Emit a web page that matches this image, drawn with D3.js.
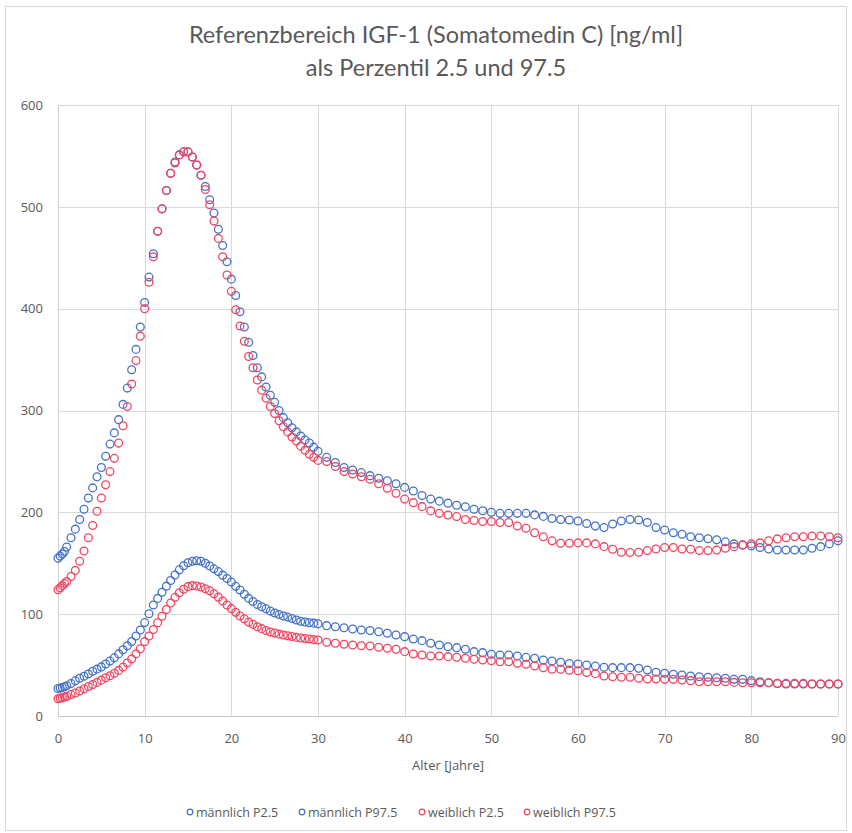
<!DOCTYPE html>
<html>
<head>
<meta charset="utf-8">
<script src="https://cdn.jsdelivr.net/npm/d3@7/dist/d3.min.js"></script>
<style>
  html, body { margin: 0; padding: 0; background: #fff; }
  svg text { font-family: "Open Sans", "Noto Sans", sans-serif; fill: #595959; }
</style>
</head>
<body>
<svg id="chart" width="852" height="833"></svg>
<script>
const ages = [0,0.25,0.5,0.75,1,1.5,2,2.5,3,3.5,4,4.5,5,5.5,6,6.5,7,7.5,8,8.5,9,9.5,10,10.5,11,11.5,12,12.5,13,13.5,14,14.5,15,15.5,16,16.5,17,17.5,18,18.5,19,19.5,20,20.5,21,21.5,22,22.5,23,23.5,24,24.5,25,25.5,26,26.5,27,27.5,28,28.5,29,29.5,30,
  31,32,33,34,35,36,37,38,39,40,41,42,43,44,45,46,47,48,49,50,51,52,53,54,55,56,57,58,59,60,61,62,63,64,65,66,67,68,69,70,71,72,73,74,75,76,77,78,79,80,81,82,83,84,85,86,87,88,89,90];

const maleP2_5 = [27,27.4,28,28.7,29.7,
  31.9,34.5,37,39.1,41.3,44,46,48.2,51.1,53.9,57.1,61,65,68.9,73.2,78.5,84.5,91.7,100.4,109,115.5,121.5,127.5,133,138.5,143.5,147.5,150.5,152,152.5,152,150,147.3,144.5,141.8,138.3,135,131.5,127.3,123.8,119.5,115.5,112.5,109.5,107.3,105.2,103,101.1,99.7,98.2,97.1,95.7,94.2,93,92.3,91.6,91.2,90.5,
  88.7,87.7,86.7,85.5,84.5,84,82.8,81.2,79.6,77.9,75.6,74,71.4,69.7,68,67.1,65.5,63.2,62.2,60.6,59.9,59.9,58.9,57.6,56.7,55,54,52.7,51.5,51,50,49,47.8,47.5,47.5,47.5,46.8,45.2,42.9,41.9,41,40.3,39.3,38.6,38,37.6,37,36,36,34.7,33.7,32.7,32,31.4,31.4,31.4,31.4,31.4,31.4,31.4];

const maleP97_5 = [155,157,159,161.5,166,
  175,183.5,193,203,214,224,235,244,255,267,278,291,306,322,340,360,382,406,431,454,476,498,516,533,544,551,554,554,549,541,531,520,507,494,478,462,446,429,413,397,382,367,354,342,333,323,315,308,300,293,288,283,279,275,271,268,264,260,
  254,249,244,241.5,239,236,233.5,231,228,224.5,221,216.5,213,211,209,207,205.5,203,201.5,200,199,199,199,199,197.5,196,194,193,192.5,191.5,189,186.5,185,188.5,191.5,193,192.5,190,185,182.7,180,178.5,176,175,174,173,171,169,168,167,165.5,164,163,163,163,163,164.7,166.3,169,172];

const femaleP2_5 = [17,17.5,18,18.7,19.4,
  21,22.5,24.5,26.8,29,31,33,35.2,37.5,39.5,42,44.8,48,52,56,61,66,73,78.6,85,91.5,98,104.5,111,116.5,121,124.5,127,128,127.7,126.7,125,123,120,116.7,113,109,105.4,101.8,98.2,95.4,92.2,90,87.6,85.8,84,82.4,81.4,80.4,79.6,78.7,78,77.2,76.6,76,75.5,75,74.6,
  72.4,71.4,70.4,69.7,69,68.8,67.5,66.5,65.5,63.2,60.9,59.9,58.9,58.9,58.3,57.7,56.7,55.7,55,54.3,53.3,53.3,51.7,50.8,49.1,47.4,45.9,45.9,45,44.5,42.6,41.6,39.3,38.6,38,38,37,36.3,36.3,36,36,35.4,34.7,33.7,33.7,33.7,33.7,33,32.7,32.7,32.7,32.7,32,32,32,32,31.4,31.4,31.4,31.4];

const femaleP97_5 = [124,126,128,130,132,
  137,143,152,162,175,187,201,214,227,240,253,268,285,304,326,349,373,400,426,451,476,498,516,533,543,551,554,554,549,541,531,517,502,486,469,451,433,417,399,383,368,353,342,330,320,312,304,297,290,284,279,274,270,265,261,257,254,251,
  249.8,245,240,237.7,235,232.5,228,223.7,218.8,213,209.5,205.6,201.4,199,197.4,195.8,193,192,191,191,190,190,186.6,184.4,180,176,172,169.6,169.6,170,170,169,166.3,163.7,160.8,160.5,160.8,162.4,164,165.4,165.4,164,163.7,162.4,162.4,163,164.7,166.3,168,169,170,172,173.9,175,176,176,176.7,176.7,176,175];

const seriesNames = ["männlich P2.5", "männlich P97.5", "weiblich P2.5", "weiblich P97.5"];
const seriesValues = [maleP2_5, maleP97_5, femaleP2_5, femaleP97_5];
const seriesColors = ["#4472C4", "#4472C4", "#F4445F", "#F4445F"];

const xTicks = [0,10,20,30,40,50,60,70,80,90];
const yTicks = [0,100,200,300,400,500,600];

const titleLines = ["Referenzbereich IGF-1 (Somatomedin C) [ng/ml]", "als Perzentil 2.5 und 97.5"];
const xAxisTitle = "Alter [Jahre]";

const svg = d3.select("#chart");

// chart area border
svg.append("rect").attr("x", 5.5).attr("y", 6.5).attr("width", 841).attr("height", 824)
  .attr("fill", "#fff").attr("stroke", "#D9D9D9").attr("stroke-width", 1);

const x = d3.scaleLinear().domain([0, 90]).range([58, 838]);
const y = d3.scaleLinear().domain([0, 600]).range([716, 105]);

// grid lines
const grid = svg.append("g");
grid.selectAll("line.h").data(yTicks.filter(d => d > 0)).enter().append("line")
  .attr("x1", x(0)).attr("x2", x(90))
  .attr("y1", d => Math.round(y(d)) + 0.5).attr("y2", d => Math.round(y(d)) + 0.5)
  .attr("stroke", "#D9D9D9").attr("stroke-width", 1);
grid.selectAll("line.v").data(xTicks.filter(d => d > 0)).enter().append("line")
  .attr("y1", y(0)).attr("y2", y(600))
  .attr("x1", d => Math.round(x(d)) + 0.5).attr("x2", d => Math.round(x(d)) + 0.5)
  .attr("stroke", "#D9D9D9").attr("stroke-width", 1);

// axis lines
svg.append("line").attr("x1", Math.round(x(0)) + 0.5).attr("x2", Math.round(x(0)) + 0.5)
  .attr("y1", y(0)).attr("y2", y(600)).attr("stroke", "#D0D0D0");
svg.append("line").attr("x1", x(0)).attr("x2", x(90))
  .attr("y1", Math.round(y(0)) + 0.5).attr("y2", Math.round(y(0)) + 0.5).attr("stroke", "#C8C8C8");

// axes (labels)
const xAxis = svg.append("g").attr("transform", `translate(0,${y(0)})`)
  .call(d3.axisBottom(x).tickValues(xTicks).tickSize(0).tickPadding(18).tickFormat(d3.format("d")));
xAxis.select(".domain").remove();
xAxis.selectAll("text").attr("font-size", 13).attr("fill", "#595959")
  .style("font-family", '"Open Sans", sans-serif');

const yAxis = svg.append("g").attr("transform", `translate(${x(0)},0)`)
  .call(d3.axisLeft(y).tickValues(yTicks).tickSize(0).tickPadding(15).tickFormat(d3.format("d")));
yAxis.select(".domain").remove();
yAxis.selectAll("text").attr("font-size", 13).attr("fill", "#595959")
  .style("font-family", '"Open Sans", sans-serif');

// series
seriesValues.forEach((vals, i) => {
  svg.append("g").selectAll("circle").data(ages.map((a, j) => [a, vals[j]])).enter()
    .append("circle")
    .attr("cx", d => x(d[0])).attr("cy", d => y(d[1])).attr("r", 3.9)
    .attr("fill", "none").attr("stroke", seriesColors[i]).attr("stroke-width", 1.3);
});

// title
const title = svg.append("text").attr("text-anchor", "middle")
  .attr("font-size", 23.5).style("font-family", "Lato, sans-serif").attr("fill", "#595959");
title.append("tspan").attr("x", 436).attr("y", 43).text(titleLines[0]);
title.append("tspan").attr("x", 436).attr("y", 76).text(titleLines[1]);

// x axis title
svg.append("text").attr("x", 448).attr("y", 770).attr("text-anchor", "middle")
  .attr("font-size", 13).text(xAxisTitle);

// legend
const legendX = [190, 302, 422, 527];
const legend = svg.append("g");
seriesNames.forEach((name, i) => {
  legend.append("circle").attr("cx", legendX[i]).attr("cy", 812).attr("r", 2.8)
    .attr("fill", "none").attr("stroke", seriesColors[i]).attr("stroke-width", 1.2);
  legend.append("text").attr("x", legendX[i] + 6).attr("y", 816.5)
    .attr("font-size", 12.5).text(name);
});
</script>
</body>
</html>
